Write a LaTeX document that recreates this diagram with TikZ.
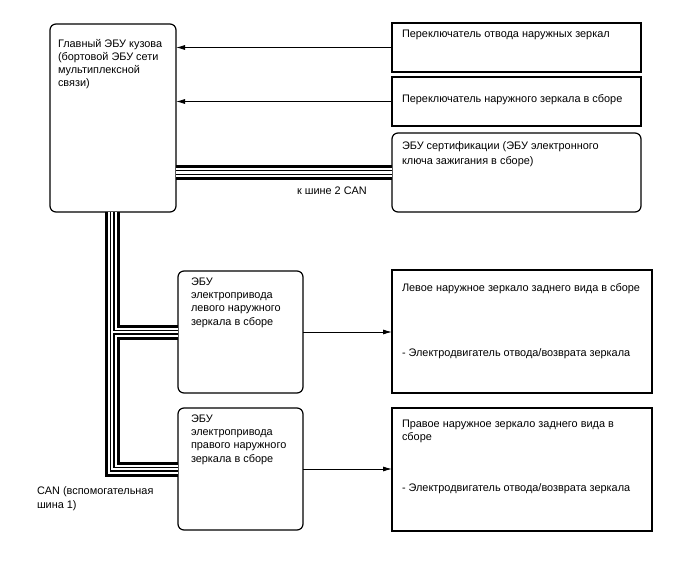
\documentclass[tikz,border=0pt]{standalone}
\usepackage{fontspec}
\setmainfont{Liberation Sans}
\usetikzlibrary{arrows.meta}
\begin{document}
\begin{tikzpicture}[x=1pt,y=-1pt,
  box/.style={draw=black, line width=1.2pt, inner sep=0pt, outer sep=0pt, anchor=north west},
  rbox/.style={box, rounded corners=6pt},
  txt/.style={inner sep=0pt, outer sep=0pt, anchor=north west, align=left,
              font=\fontsize{10.9pt}{13.3pt}\selectfont},
  arr/.style={draw=black, line width=0.8pt, -{Latex[length=9pt,width=5pt]}}
]
\useasboundingbox[fill=white] (0,0) rectangle (688,560);

% boxes
\node[rbox, minimum width=126pt, minimum height=188pt] (main) at (50,24) {};
\node[box,  minimum width=249pt, minimum height=49pt]  (sw1)  at (392,23) {};
\node[box,  minimum width=249pt, minimum height=49pt]  (sw2)  at (392,77) {};
\node[rbox, minimum width=249pt, minimum height=79pt]  (cert) at (392,133) {};
\node[rbox, minimum width=125pt, minimum height=122pt] (ecuL) at (178,271) {};
\node[rbox, minimum width=125pt, minimum height=122pt] (ecuR) at (178,408) {};
\node[box,  minimum width=260pt, minimum height=123pt] (mirL) at (392,270) {};
\node[box,  minimum width=260pt, minimum height=123pt] (mirR) at (392,408) {};

% texts
\node[txt] (mainT) at (58,39) {Главный ЭБУ кузова\\(бортовой ЭБУ сети\\мультиплексной\\связи)};
\node[txt] (sw1T) at (402,29.5) {Переключатель отвода наружных зеркал};
\node[txt] (sw2T) at (402,95) {Переключатель наружного зеркала в сборе};
\node[txt] (certT) at (402,141.5) {ЭБУ сертификации (ЭБУ электронного\\[2pt]ключа зажигания в сборе)};
\node[txt] (busT) at (297,186.5) {к шине 2 CAN};
\node[txt] (ecuLT) at (191,277.5) {ЭБУ\\электропривода\\левого наружного\\зеркала в сборе};
\node[txt] (ecuRT) at (191,414.5) {ЭБУ\\электропривода\\правого наружного\\зеркала в сборе};
\node[txt] (mirLT1) at (402,283.5) {Левое наружное зеркало заднего вида в сборе};
\node[txt] (mirLT2) at (402,348.5) {- Электродвигатель отвода/возврата зеркала};
\node[txt] (mirRT1) at (402,419.5) {Правое наружное зеркало заднего вида в\\сборе};
\node[txt] (mirRT2) at (402,483.5) {- Электродвигатель отвода/возврата зеркала};
\node[txt] (canT) at (37,487) {CAN (вспомогательная\\шина 1)};

% arrows
\draw[arr] (sw1.west) -- (sw1.west -| main.east);
\draw[arr] (sw2.west) -- (sw2.west -| main.east);
\draw[arr] (ecuL.east) -- (ecuL.east -| mirL.west);
\draw[arr] (ecuR.east) -- (ecuR.east -| mirR.west);

% buses
\coordinate (bx) at (112,0);
\foreach \w/\c in {15/black, 9/white, 5/black, 2.5/white} {
  \draw[line width=\w pt, draw=\c, line join=miter] (main.south -| bx) |- (ecuR.west);
  \draw[line width=\w pt, draw=\c] (bx |- ecuL.west) -- (ecuL.west);
  \draw[line width=\w pt, draw=\c] (cert.west -| main.east) -- (cert.west);
}
\end{tikzpicture}
\end{document}
